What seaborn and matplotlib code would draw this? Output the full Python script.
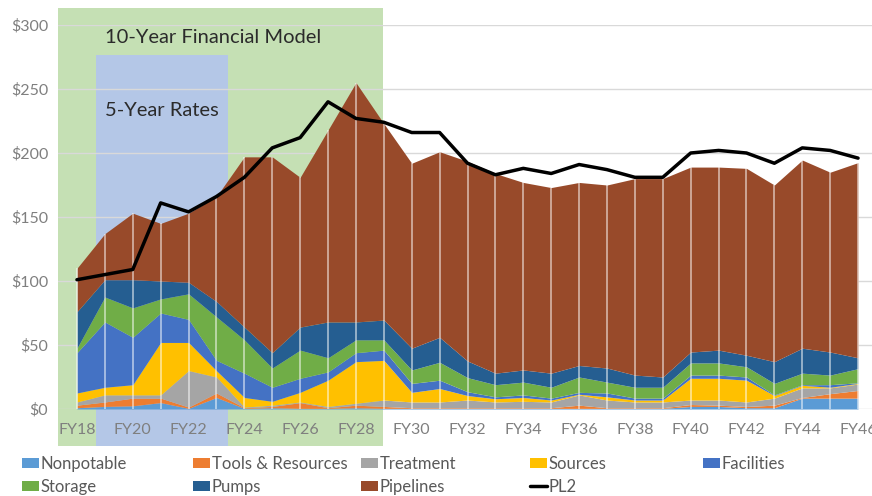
import matplotlib.pyplot as plt
from matplotlib.patches import Rectangle, Patch
from matplotlib.lines import Line2D
import numpy as np
import seaborn as sns

## data ##
years = [f'FY{y}' for y in range(18, 47)]

nonpotable = [1, 2, 2.5, 5, 0.5, 9, 0.5, 1, 0.5, 0.5, 1, 0.5, 0.5, 0.5, 0.5, 0.5, 0.5, 0.5, 0.5, 0.5,
              0.5, 0.5, 2, 2, 1, 1, 8.5, 8.5, 8.5]
tools = [2, 3.5, 6, 3.5, 1, 3.5, 0.5, 1, 4.5, 0.5, 2, 1.5, 0.5, 0.5, 0.5, 0.5, 0.5, 0.5, 2.5, 0.5,
         0.5, 0.5, 1.5, 1, 1, 2, 0.5, 3.5, 6]
treatment = [2.5, 5.5, 2.5, 2.5, 28.5, 12.5, 0.5, 1, 0.5, 1, 1.5, 5, 4.5, 4.5, 6, 4.5, 5, 4.5, 8, 6,
             4.5, 4.5, 3.5, 4, 3.5, 5.5, 7.5, 4.5, 5]
sources = [7, 6, 8, 41, 22, 5, 7.5, 3, 7.5, 20.5, 32.5, 31, 7.5, 10.5, 3.5, 2.5, 3, 1.5, 0.5, 2.5,
           1.5, 1.5, 17, 17, 17, 2, 2, 0.5, 0.5]
facilities = [31.5, 51, 37, 23, 18, 8, 19, 11, 11, 6.5, 7, 8, 7, 6.5, 3, 1.5, 2, 1.5, 1.5, 3,
              1.5, 1.5, 2.5, 2.5, 2.5, 0.5, 0.5, 2, 0.5]
storage = [3.5, 19.5, 23, 11, 20, 34, 26, 15, 22, 11, 10, 8, 10.5, 14, 11, 9.5, 10, 8.5, 12, 8.5,
           8.5, 8.5, 9.5, 9.5, 8, 9, 9, 7.5, 11]
pumps = [28.5, 13.5, 22, 14, 9, 12, 10, 12, 18, 28, 14, 15.5, 17, 19.5, 13, 9, 9.5, 11, 9, 11,
         9.5, 8, 8.5, 10, 9, 17, 19.5, 18, 8.5]
pipelines = [34, 36, 52, 45, 54, 82, 133, 153, 117, 150, 187, 153.5, 144.5, 145, 156, 156, 146.5, 145, 143, 143,
             153.5, 155, 144.5, 143, 146, 138, 147, 140.5, 152.5]
pl2 = [101, 105, 109, 161, 154, 166, 181, 204, 212, 240, 227, 224, 216, 216, 192, 183, 188, 184, 191, 187,
       181, 181, 200, 202, 200, 192, 204, 202, 196]

series_names = ['Nonpotable', 'Tools & Resources', 'Treatment', 'Sources', 'Facilities',
                'Storage', 'Pumps', 'Pipelines']
series_colors = ['#5B9BD5', '#ED7D31', '#A5A5A5', '#FFC000', '#4472C4',
                 '#70AD47', '#255E91', '#984A2A']

## plotting params ##
sns.set_theme(style='white')
plt.rcParams['font.family'] = ['Lato', 'DejaVu Sans']
txt_gray = '#7F7F7F'

fig = plt.figure(figsize=(8.72, 4.96), dpi=100)
ax = fig.add_axes([58 / 872, 87 / 496, 814 / 872, 384 / 496])

x = np.arange(len(years))
series = [nonpotable, tools, treatment, sources, facilities, storage, pumps, pipelines]

# background boxes
ax.add_patch(Rectangle((-0.68, -29), 11.65, 342, facecolor='#C5E0B4', edgecolor='none',
                       clip_on=False, zorder=0))
ax.add_patch(Rectangle((0.68, -29), 4.73, 305.6, facecolor='#B4C7E7', edgecolor='none',
                       clip_on=False, zorder=0))

for v in range(0, 301, 50):
    ax.axhline(v, color='#D9D9D9', lw=1, zorder=0.5)

ax.stackplot(x, *series, colors=series_colors, labels=series_names, linewidth=0, zorder=2)

# drop lines
totals = np.sum(np.array(series), axis=0)
ax.vlines(x, 0, totals, colors='white', lw=1.3, alpha=0.55, zorder=3)

sns.lineplot(x=x, y=pl2, color='black', lw=2.5, ax=ax, zorder=4, legend=False)

ax.text(1.0, 290.5, '10-Year Financial Model', fontsize=14.5, color='#2B2B2B', va='center', ha='left', zorder=5)
ax.text(1.0, 233, '5-Year Rates', fontsize=14.5, color='#2B2B2B', va='center', ha='left', zorder=5)

ax.set_xlim(-0.68, 28.5)
ax.set_ylim(0, 300)
ax.set_xticks(x[::2])
ax.set_xticklabels(years[::2], color=txt_gray, fontsize=11.5)
ax.set_yticks(range(0, 301, 50))
ax.set_yticklabels([f'${v}' for v in range(0, 301, 50)], color=txt_gray, fontsize=11.5)
ax.tick_params(axis='x', length=0, pad=10)
ax.tick_params(axis='y', length=0, pad=7)
ax.grid(False)
for s in ax.spines.values():
    s.set_visible(False)
ax.set_xlabel('')
ax.set_ylabel('')

# legend, one per column to match spacing
handles = [Patch(facecolor=c, edgecolor='none') for c in series_colors]
handles.append(Line2D([0], [0], color='black', lw=2.5))
labels = series_names + ['PL2']
col_x = [22, 193, 361, 530, 703]
for i, cx in enumerate(col_x):
    idx = [i, i + 5] if i + 5 < len(labels) else [i]
    fig.legend([handles[j] for j in idx], [labels[j] for j in idx],
               loc='upper left', bbox_to_anchor=(cx / 872, 1 - 456 / 496),
               frameon=False, fontsize=12, labelcolor='#595959',
               handlelength=1.0, handleheight=0.55, handletextpad=0.12,
               borderpad=0, borderaxespad=0, labelspacing=0.4)

fig.savefig('out.png', dpi=100)
plt.close()
